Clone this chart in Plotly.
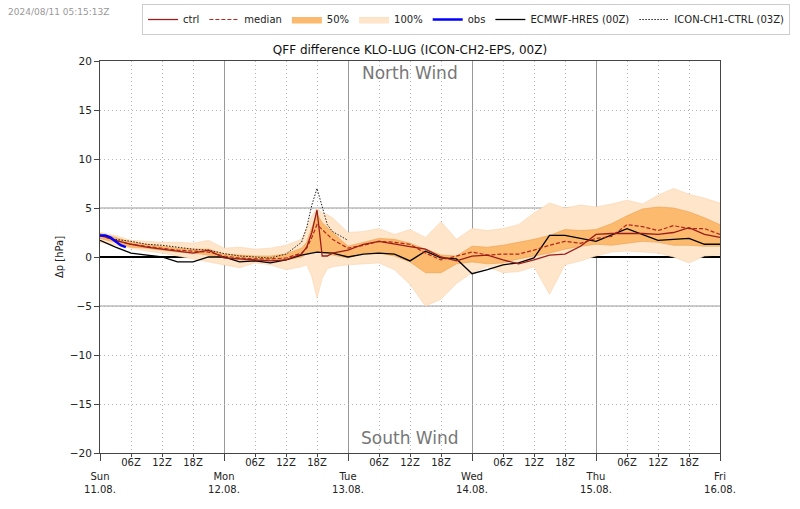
import plotly.graph_objects as go

# ---------------- data (lead time in hours from Sun 11.08. 00Z) ----------------
eps_hours = [0, 3, 6, 9, 12, 15, 18, 21, 24, 27, 30, 33, 36, 39, 40, 41, 42, 43, 44, 45,
             48, 51, 54, 57, 60, 63, 66, 69, 72, 75, 78, 81, 84, 87, 90, 93, 96, 99, 102,
             105, 108, 111, 114, 117, 120]
p100_hi = [2.5, 2.2, 1.7, 1.6, 1.5, 1.5, 1.4, 1.7, 0.9, 1.0, 0.8, 0.9, 1.2, 1.8, 3.0, 4.2, 5.0, 4.5, 4.3, 4.0,
           2.5, 2.6, 2.9, 2.3, 2.8, 2.0, 3.6, 1.8, 2.9, 2.7, 2.9, 3.3, 4.5, 5.5, 5.0, 5.3, 5.1, 5.4, 5.8,
           5.4, 6.3, 7.0, 6.4, 6.0, 5.5]
p100_lo = [1.5, 1.2, 0.9, 0.6, 0.4, 0.1, -0.2, -0.5, -0.8, -1.1, -0.6, -0.8, -1.3, -1.0, -0.8, -2.0, -4.2, -2.2, -1.2, -1.0,
           -0.8, -0.7, -0.6, -1.3, -2.8, -5.0, -4.3, -2.7, -1.6, -1.0, -1.6, -1.5, -1.0, -3.8, -0.8, -0.4, 0.1, 0.5, 0.6,
           0.5, 0.4, 0.0, -0.6, 0.1, 0.2]
p50_hi = [2.4, 2.0, 1.5, 1.3, 1.1, 0.9, 0.8, 0.8, 0.3, 0.2, 0.1, 0.1, 0.3, 0.9, 1.5, 3.0, 4.4, 3.5, 3.0, 2.5,
          1.1, 1.5, 1.9, 1.8, 1.4, 0.8, 0.2, 0.1, 1.1, 1.0, 1.2, 1.5, 1.8, 2.2, 2.8, 2.7, 2.8, 3.4, 4.2,
          4.9, 5.1, 5.0, 4.6, 4.0, 3.3]
p50_lo = [1.9, 1.5, 1.0, 0.9, 0.7, 0.5, 0.4, 0.2, -0.1, -0.3, -0.4, -0.4, -0.3, 0.0, 0.3, 0.5, 0.6, 0.4, 0.3, 0.2,
          -0.1, 0.4, 0.4, 0.1, -0.5, -1.6, -1.6, -0.7, -0.5, -0.7, -0.6, -0.2, 0.1, 0.4, 0.8, 1.1, 1.3, 1.2, 1.4,
          1.6, 1.5, 1.2, 1.2, 1.1, 1.1]
ctrl = [2.2, 1.7, 1.3, 1.0, 0.8, 0.6, 0.4, 0.7, -0.1, -0.2, -0.3, -0.4, -0.3, 0.3, 1.0, 2.5, 4.8, 0.1, 0.1, 0.4,
        0.7, 1.3, 1.6, 1.3, 1.05, 0.8, 0.0, -0.4, 0.1, 0.2, -0.3, -0.7, -0.3, 0.2, 0.3, 1.1, 2.3, 2.4, 2.4,
        2.4, 2.3, 2.5, 3.0, 2.3, 2.0]
median = [2.2, 1.7, 1.3, 1.1, 0.9, 0.7, 0.6, 0.5, 0.1, -0.1, -0.2, -0.2, -0.1, 0.4, 0.9, 2.0, 3.3, 2.8, 2.2, 1.8,
          0.9, 1.2, 1.6, 1.5, 1.3, 0.4, -0.3, 0.1, 0.5, 0.2, 0.3, 0.3, 0.7, 1.2, 1.6, 1.4, 1.9, 2.1, 3.3,
          3.1, 2.7, 3.2, 2.9, 2.9, 2.3]

ecmwf_hours = [0, 3, 6, 9, 12, 15, 18, 21, 24, 27, 30, 33, 36, 39, 42, 45, 48, 51, 54, 57, 60, 63, 66,
               69, 72, 75, 78, 81, 84, 87, 90, 96, 102, 108, 114, 117, 120]
ecmwf = [1.7, 1.0, 0.4, 0.2, 0.0, -0.5, -0.5, 0.0, 0.0, -0.5, -0.4, -0.6, -0.3, 0.2, 0.5, 0.4, 0.0, 0.3, 0.4, 0.3,
         -0.4, 0.6, -0.1, -0.2, -1.7, -1.3, -0.8, -0.6, -0.1, 2.2, 2.2, 1.6, 2.9, 1.7, 1.9, 1.3, 1.3]

icon_hours = [3, 6, 9, 12, 15, 18, 21, 24, 27, 30, 33, 36, 39, 40, 41, 42, 43, 44, 45, 48]
icon_ch1 = [1.8, 1.6, 1.3, 1.2, 1.0, 0.8, 0.7, 0.35, 0.1, 0.0, -0.1, 0.3, 1.5, 3.0, 5.3, 7.0, 5.0, 3.3, 2.6, 1.7]

obs_hours = [0, 1, 2, 3, 4, 5]
obs = [2.2, 2.2, 2.0, 1.6, 1.2, 1.0]

day_hours = [0, 24, 48, 72, 96, 120]
day_labels = ["Sun<br>11.08.", "Mon<br>12.08.", "Tue<br>13.08.", "Wed<br>14.08.", "Thu<br>15.08.", "Fri<br>16.08."]
sub_hours = [6, 12, 18, 30, 36, 42, 54, 60, 66, 78, 84, 90, 102, 108, 114]
sub_labels = ["06Z", "12Z", "18Z"] * 5
y_ticks = [-20, -15, -10, -5, 0, 5, 10, 15, 20]
wind_limits = [-5, 5]

FONT = "DejaVu Sans"
C100 = "rgb(255,229,201)"
C50 = "rgb(252,186,110)"
DOTGRID = "1px,3px"

fig = go.Figure()

# 100% band
fig.add_trace(go.Scatter(x=eps_hours, y=p100_lo, mode="lines", line=dict(color="rgb(250,212,175)", width=0.6),
                         showlegend=False, hoverinfo="skip"))
fig.add_trace(go.Scatter(x=eps_hours, y=p100_hi, mode="lines", fill="tonexty", fillcolor=C100,
                         line=dict(color="rgb(250,212,175)", width=0.6), name="100%", legendrank=4))
# 50% band
fig.add_trace(go.Scatter(x=eps_hours, y=p50_lo, mode="lines", line=dict(color="rgb(235,160,80)", width=0.6),
                         showlegend=False, hoverinfo="skip"))
fig.add_trace(go.Scatter(x=eps_hours, y=p50_hi, mode="lines", fill="tonexty", fillcolor=C50,
                         line=dict(color="rgb(235,160,80)", width=0.6), name="50%", legendrank=3))

fig.add_trace(go.Scatter(x=ecmwf_hours, y=ecmwf, mode="lines", line=dict(color="black", width=1.3),
                         name="ECMWF-HRES (00Z)", legendrank=6))
fig.add_trace(go.Scatter(x=icon_hours, y=icon_ch1, mode="lines", line=dict(color="#222", width=1, dash="1.5px,1.5px"),
                         name="ICON-CH1-CTRL (03Z)", legendrank=7))
fig.add_trace(go.Scatter(x=eps_hours, y=median, mode="lines", line=dict(color="#b3261e", width=1.2, dash="4px,2px"),
                         name="median", legendrank=2))
fig.add_trace(go.Scatter(x=eps_hours, y=ctrl, mode="lines", line=dict(color="#9b1c1c", width=1.3),
                         name="ctrl", legendrank=1))
fig.add_trace(go.Scatter(x=obs_hours, y=obs, mode="lines", line=dict(color="#0000ff", width=2.5),
                         name="obs", legendrank=5))

# helper trace so the overlay axis with hour labels is drawn
fig.add_trace(go.Scatter(x=sub_hours, y=[None] * len(sub_hours), xaxis="x2", yaxis="y",
                         showlegend=False, hoverinfo="skip"))

for v in wind_limits:
    fig.add_hline(y=v, line=dict(color="#999", width=1), layer="below")

fig.update_layout(
    width=800, height=509,
    margin=dict(l=100, r=80, t=61, b=56, autoexpand=False),
    paper_bgcolor="white", plot_bgcolor="white",
    font=dict(family=FONT, size=11, color="#222"),
    title=dict(text="QFF difference KLO-LUG (ICON-CH2-EPS, 00Z)", x=0.5125, xanchor="center",
               y=1 - 50 / 509, yanchor="middle", yref="container", font=dict(size=12, color="#111")),
    showlegend=True,
    legend=dict(orientation="h", x=1.113, xanchor="right", y=1.1454, yanchor="top", traceorder="normal",
                bgcolor="white", bordercolor="#cccccc", borderwidth=1,
                font=dict(size=10, color="#222"), tracegroupgap=0, itemwidth=30),
    xaxis=dict(range=[0, 120], tickmode="array", tickvals=day_hours, ticktext=day_labels,
               ticks="outside", ticklen=7, tickcolor="#444", showgrid=True, gridcolor="#999", gridwidth=1,
               showline=True, linecolor="#444", mirror=True, zeroline=False, ticklabelstandoff=7,
               tickfont=dict(size=10, color="#222"),
               minor=dict(tickmode="array", tickvals=sub_hours, ticks="outside", ticklen=3, tickcolor="#444",
                          showgrid=True, gridcolor="#b5b5b5", griddash=DOTGRID, gridwidth=1)),
    xaxis2=dict(range=[0, 120], overlaying="x", anchor="y", side="bottom", tickmode="array",
                tickvals=sub_hours, ticktext=sub_labels, ticks="", showgrid=False, showline=False,
                zeroline=False, ticklabelstandoff=2, tickfont=dict(size=10, color="#222")),
    yaxis=dict(range=[-20, 20], tickmode="array", tickvals=y_ticks, ticks="outside", ticklen=5,
               tickcolor="#444", showgrid=True, gridcolor="#b5b5b5", griddash=DOTGRID, gridwidth=1,
               zeroline=True, zerolinecolor="black", zerolinewidth=1.6,
               showline=True, linecolor="#444", mirror=True,
               title=dict(text="Δp [hPa]", font=dict(size=10), standoff=4),
               tickfont=dict(size=10.5, color="#222")),
)

fig.add_annotation(text="2024/08/11 05:15:13Z", xref="paper", yref="paper", x=-0.152, y=1.125,
                   xanchor="left", yanchor="middle", showarrow=False, font=dict(size=9, color="#999"))
fig.add_annotation(text="North Wind", x=60, y=18.8, xref="x", yref="y", showarrow=False,
                   font=dict(size=17, color="#777"))
fig.add_annotation(text="South Wind", x=60, y=-18.5, xref="x", yref="y", showarrow=False,
                   font=dict(size=17, color="#777"))

fig.write_html("out.html")
